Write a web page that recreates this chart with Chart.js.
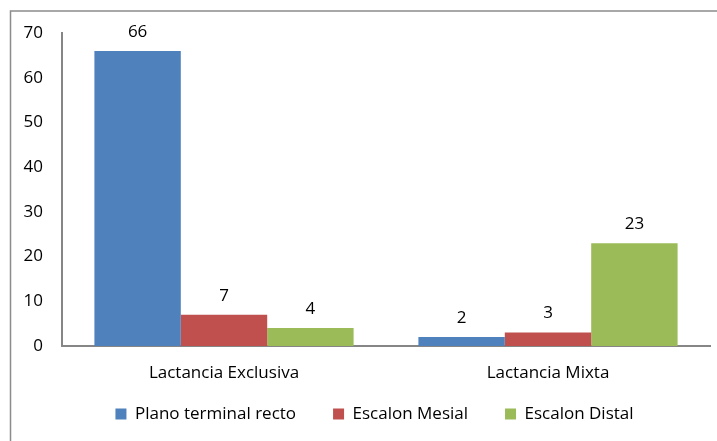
<!DOCTYPE html>
<html>
<head>
<meta charset="utf-8">
<script src="https://cdn.jsdelivr.net/npm/chart.js@4/dist/chart.umd.min.js"></script>
<style>
  html, body { margin: 0; padding: 0; background: #fff; }
  #wrap { width: 717px; height: 441px; position: relative; }
</style>
</head>
<body>
<div id="wrap"><canvas id="myChart" width="717" height="441"></canvas></div>
<script>
var categories = ["Lactancia Exclusiva", "Lactancia Mixta"];
var seriesNames = ["Plano terminal recto", "Escalon Mesial", "Escalon Distal"];
var planoRecto = [66, 2];
var escalonMesial = [7, 3];
var escalonDistal = [4, 23];
var colors = ["#4F81BD", "#C0504D", "#9BBB59"];

var fontFamily = "'Open Sans', 'Liberation Sans', sans-serif";

// frame around the chart (only top and left visible in the picture)
var framePlugin = {
  id: 'frame',
  beforeDraw: function(chart) {
    var ctx = chart.ctx;
    ctx.save();
    ctx.strokeStyle = '#8c8c8c';
    ctx.lineWidth = 1.5;
    ctx.beginPath();
    ctx.moveTo(10.5, 441);
    ctx.lineTo(10.5, 11);
    ctx.lineTo(717, 11);
    ctx.stroke();
    ctx.restore();
  }
};

// legend padding is big (wide gaps between items), so pull the box up and right a bit
var legendShift = {
  id: 'legendShift',
  afterLayout: function(chart) {
    var lg = chart.legend;
    if (!lg) return;
    lg.top -= 27.5;
    lg.bottom -= 27.5;
    lg.left += 19.5;
    lg.right += 19.5;
  }
};

// value labels above each bar
var labelPlugin = {
  id: 'barLabels',
  afterDatasetsDraw: function(chart) {
    var ctx = chart.ctx;
    ctx.save();
    ctx.fillStyle = '#000';
    ctx.font = '17px ' + fontFamily;
    ctx.textAlign = 'center';
    ctx.textBaseline = 'middle';
    chart.data.datasets.forEach(function(ds, i) {
      var meta = chart.getDatasetMeta(i);
      meta.data.forEach(function(bar, j) {
        ctx.fillText(ds.data[j], bar.x, bar.y - 19);
      });
    });
    ctx.restore();
  }
};

var ctx = document.getElementById('myChart');

var chartdata = {
  labels: categories,
  datasets: [
    { label: seriesNames[0], data: planoRecto, backgroundColor: colors[0] },
    { label: seriesNames[1], data: escalonMesial, backgroundColor: colors[1] },
    { label: seriesNames[2], data: escalonDistal, backgroundColor: colors[2] }
  ]
};

var barGraph = new Chart(ctx, {
  type: 'bar',
  data: chartdata,
  plugins: [framePlugin, legendShift, labelPlugin],
  options: {
    responsive: false,
    animation: false,
    devicePixelRatio: 1,
    categoryPercentage: 0.8,
    barPercentage: 1.0,
    layout: { padding: { top: 33, right: 7, bottom: -19, left: 0 } },
    plugins: {
      tooltip: { enabled: false },
      legend: {
        position: 'bottom',
        labels: {
          color: '#000',
          font: { family: fontFamily, size: 17 },
          boxWidth: 11,
          boxHeight: 11,
          padding: 37
        }
      }
    },
    scales: {
      x: {
        grid: { display: false, drawTicks: false },
        border: { display: true, color: '#868686', width: 2 },
        ticks: { color: '#000', font: { family: fontFamily, size: 17 }, padding: 17 },
        afterFit: function(s) { s.height = 50; }
      },
      y: {
        min: 0,
        max: 70,
        grid: { display: false, drawTicks: false },
        border: { display: true, color: '#868686', width: 2 },
        ticks: { stepSize: 10, color: '#000', font: { family: fontFamily, size: 17 }, padding: 19 },
        afterFit: function(s) { s.width = 62; }
      }
    }
  }
});
</script>
</body>
</html>
